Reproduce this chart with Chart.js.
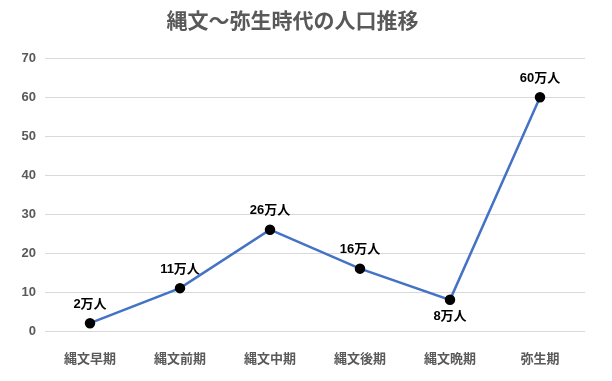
<!DOCTYPE html>
<html><head><meta charset="utf-8">
<script src="https://cdn.jsdelivr.net/npm/chart.js@4/dist/chart.umd.min.js"></script>
<style>html,body{margin:0;padding:0;background:#fff}#wrap{width:612px;height:381px}</style>
</head><body><div id="wrap"><canvas id="c" width="612" height="381"></canvas></div>
<script>
const categories = ['縄文早期','縄文前期','縄文中期','縄文後期','縄文晩期','弥生期'];
const population = [2, 11, 26, 16, 8, 60];
const valueLabels = ['2万人','11万人','26万人','16万人','8万人','60万人'];
const labelPlacement = ['above','above','above','above','below','above'];
const yTicks = [0,10,20,30,40,50,60,70];

const FONT = '"Liberation Sans", "Noto Sans CJK JP", sans-serif';

const labelPlugin = {
  id: 'valueLabels',
  afterDatasetsDraw(chart) {
    const ctx = chart.ctx;
    const meta = chart.getDatasetMeta(0);
    ctx.save();
    ctx.font = 'bold 13px ' + FONT;
    ctx.fillStyle = '#000';
    ctx.textAlign = 'center';
    ctx.textBaseline = 'middle';
    meta.data.forEach((pt, i) => {
      const dy = labelPlacement[i] === 'below' ? 17 : -19;
      ctx.fillText(valueLabels[i], pt.x, pt.y + dy);
    });
    ctx.restore();
  }
};

new Chart(document.getElementById('c'), {
  type: 'line',
  data: {
    labels: categories,
    datasets: [{
      data: population,
      borderColor: '#4472C4',
      borderWidth: 2.5,
      pointBackgroundColor: '#000',
      pointBorderColor: '#000',
      pointRadius: 4,
      tension: 0
    }]
  },
  options: {
    responsive: false,
    animation: false,
    layout: { padding: { left: 0, right: 27, top: 0, bottom: 0 } },
    plugins: {
      legend: { display: false },
      tooltip: { enabled: false },
      title: {
        display: true,
        text: '縄文～弥生時代の人口推移',
        color: '#595959',
        font: { family: FONT, size: 21, weight: 'bold' },
        padding: { top: 10, bottom: 23 }
      }
    },
    scales: {
      x: {
        offset: true,
        grid: { display: false },
        border: { display: false },
        ticks: { color: '#595959', font: { family: FONT, size: 13, weight: 'bold' }, padding: 13, maxRotation: 0 },
        afterFit(s) { s.height = 50; }
      },
      y: {
        min: 0, max: 70,
        afterBuildTicks(s) { s.ticks = yTicks.map(v => ({ value: v })); },
        grid: { color: '#d9d9d9', lineWidth: 1, drawTicks: false },
        border: { display: false },
        ticks: { color: '#595959', font: { family: FONT, size: 13, weight: 'bold' }, padding: 9 },
        afterFit(s) { s.width = 45; }
      }
    }
  },
  plugins: [labelPlugin]
});
</script>
</body></html>
